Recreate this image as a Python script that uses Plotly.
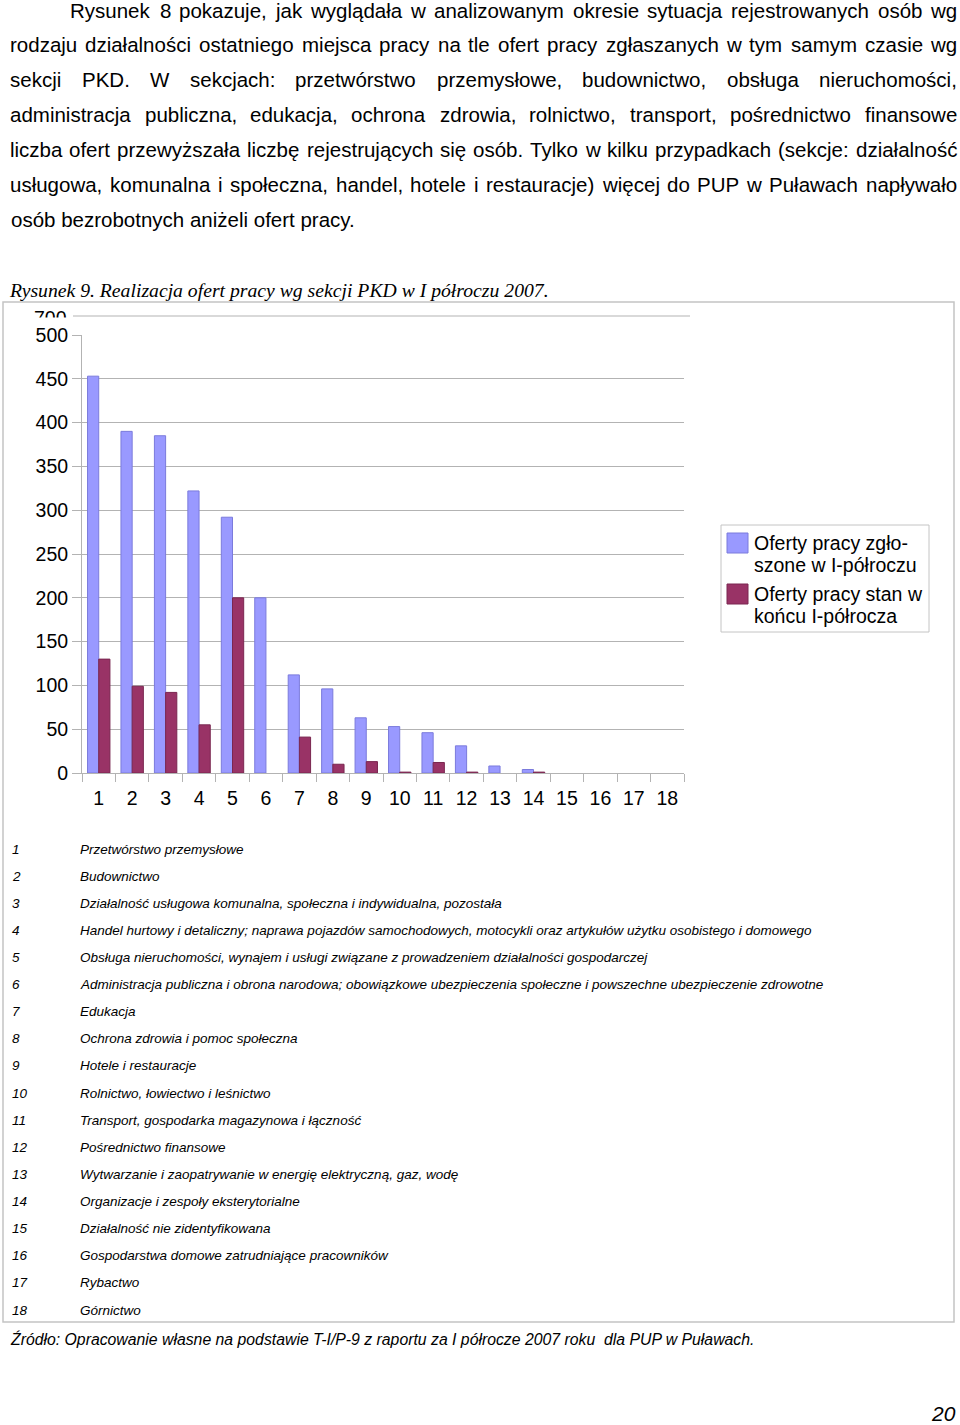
import plotly.graph_objects as go

# ---------------- data ----------------
sections = [str(i) for i in range(1, 19)]
offers_received = [453, 390, 385, 322, 292, 200, 112, 96, 63, 53, 46, 31, 8, 4, 0, 0, 0, 0]
offers_end = [130, 99, 92, 55, 200, 0, 41, 10, 13, 1, 12, 1, 0, 1, 0, 0, 0, 0]
y_ticks = [0, 50, 100, 150, 200, 250, 300, 350, 400, 450, 500]

series_names = ["Oferty pracy zgło-<br>szone w I-półroczu", "Oferty pracy stan w<br>końcu I-półrocza"]
legend_lines = [["Oferty pracy zgło-", "szone w I-półroczu"], ["Oferty pracy stan w", "końcu I-półrocza"]]

section_names = [
    "Przetwórstwo przemysłowe",
    "Budownictwo",
    "Działalność usługowa komunalna, społeczna i indywidualna, pozostała",
    "Handel hurtowy i detaliczny; naprawa pojazdów samochodowych, motocykli oraz artykułów użytku osobistego i domowego",
    "Obsługa nieruchomości, wynajem i usługi związane z prowadzeniem działalności gospodarczej",
    "Administracja publiczna i obrona narodowa; obowiązkowe ubezpieczenia społeczne i powszechne ubezpieczenie zdrowotne",
    "Edukacja",
    "Ochrona zdrowia i pomoc społeczna",
    "Hotele i restauracje",
    "Rolnictwo, łowiectwo i leśnictwo",
    "Transport, gospodarka magazynowa i łączność",
    "Pośrednictwo finansowe",
    "Wytwarzanie i zaopatrywanie w energię elektryczną, gaz, wodę",
    "Organizacje i zespoły eksterytorialne",
    "Działalność nie zidentyfikowana",
    "Gospodarstwa domowe zatrudniające pracowników",
    "Rybactwo",
    "Górnictwo",
]

paragraph = [
    "Rysunek 8 pokazuje, jak wyglądała w analizowanym okresie sytuacja rejestrowanych osób wg",
    "rodzaju działalności ostatniego miejsca pracy na tle ofert pracy zgłaszanych w tym samym czasie wg",
    "sekcji PKD. W sekcjach: przetwórstwo przemysłowe, budownictwo, obsługa nieruchomości,",
    "administracja publiczna, edukacja, ochrona zdrowia, rolnictwo, transport, pośrednictwo finansowe",
    "liczba ofert przewyższała liczbę rejestrujących się osób. Tylko w kilku przypadkach (sekcje: działalność",
    "usługowa, komunalna i społeczna, handel, hotele i restauracje) więcej do PUP w Puławach napływało",
    "osób bezrobotnych aniżeli ofert pracy.",
]
caption = "Rysunek 9. Realizacja ofert pracy wg sekcji PKD w I półroczu 2007."
source = "Źródło: Opracowanie własne na podstawie T-I/P-9 z raportu za I półrocze 2007 roku  dla PUP w Puławach."
page_no = "20"

# ---------------- styling ----------------
W, H = 960, 1425
BLUE, BLUE_EDGE = "#9999ff", "#7b7bdc"
RED, RED_EDGE = "#993366", "#7a2750"
GRID = "#b3b3b3"
SANS = "Liberation Sans, Arial, sans-serif"
SERIF = "Liberation Serif, Times New Roman, serif"


def fx(p):
    return p / W


def fy(p):
    return 1 - p / H


# Helvetica/Arial advance widths (per 1000 em) for justification
AW = {' ': 278, 'a': 556, 'b': 556, 'c': 500, 'd': 556, 'e': 556, 'f': 278, 'g': 556, 'h': 556,
      'i': 222, 'j': 222, 'k': 500, 'l': 222, 'm': 833, 'n': 556, 'o': 556, 'p': 556, 'q': 556,
      'r': 333, 's': 500, 't': 278, 'u': 556, 'v': 500, 'w': 722, 'x': 500, 'y': 500, 'z': 500,
      ',': 278, '.': 278, ':': 278, ';': 278, '(': 333, ')': 333, '-': 333,
      'P': 667, 'K': 667, 'D': 722, 'W': 944, 'R': 722, 'T': 611, 'U': 722, 'I': 278}
BASE = {'ą': 'a', 'ę': 'e', 'ó': 'o', 'ś': 's', 'ć': 'c', 'ń': 'n', 'ż': 'z', 'ź': 'z', 'ł': 'l'}


def tw(s, size):
    return sum(AW.get(BASE.get(c, c), 556) for c in s) / 1000 * size


fig = go.Figure()
fig.add_trace(go.Bar(x=sections, y=offers_received, name=series_names[0],
                     marker=dict(color=BLUE, line=dict(color=BLUE_EDGE,
                                                       width=[1 if v > 0 else 0 for v in offers_received]))))
fig.add_trace(go.Bar(x=sections, y=offers_end, name=series_names[1],
                     marker=dict(color=RED, line=dict(color=RED_EDGE,
                                                      width=[1 if v > 0 else 0 for v in offers_end]))))

annotations = []
shapes = []

# paragraph (justified, word by word)
PSIZE = 20.5
line_y = [11, 44.5, 79.5, 114.5, 149.5, 184.5, 219.5]
for i, line in enumerate(paragraph):
    x0 = 71 if i == 0 else 10
    x1 = 957
    words = line.split(" ")
    if i == len(paragraph) - 1:
        annotations.append(dict(x=fx(x0), y=fy(line_y[i]), xref="paper", yref="paper", text=line,
                                showarrow=False, xanchor="left", yanchor="middle", borderpad=0,
                                font=dict(family=SANS, size=PSIZE, color="black")))
        continue
    widths = [tw(w_, PSIZE) for w_ in words]
    gap = (x1 - x0 - sum(widths)) / (len(words) - 1)
    pos = x0
    for j, w_ in enumerate(words):
        annotations.append(dict(x=fx(pos + widths[j] / 2), y=fy(line_y[i]), xref="paper", yref="paper",
                                text=w_, showarrow=False, xanchor="center", yanchor="middle", borderpad=0,
                                font=dict(family=SANS, size=PSIZE, color="black")))
        pos += widths[j] + gap

# caption
annotations.append(dict(x=fx(7), y=fy(290), xref="paper", yref="paper", text="<i>" + caption + "</i>",
                        showarrow=False, xanchor="left", yanchor="middle",
                        font=dict(family=SERIF, size=19.7, color="black")))

# outer frame
shapes.append(dict(type="rect", xref="paper", yref="paper", x0=fx(3), x1=fx(954), y0=fy(302), y1=fy(1322),
                   line=dict(color="#c4c4c4", width=1.5)))
# stray top gridline with clipped "700"
shapes.append(dict(type="line", xref="paper", yref="paper", x0=fx(73), x1=fx(690), y0=fy(316), y1=fy(316),
                   line=dict(color=GRID, width=1)))
annotations.append(dict(x=fx(69), y=fy(318), xref="paper", yref="paper", text="700", showarrow=False,
                        xanchor="right", yanchor="middle", font=dict(family=SANS, size=19.5, color="black")))
annotations.append(dict(x=fx(28), y=fy(317), xref="paper", yref="paper", text=" ", showarrow=False,
                        xanchor="left", yanchor="top", width=44, height=9, borderpad=0, bgcolor="white",
                        font=dict(size=2)))

# legend (drawn manually)
shapes.append(dict(type="rect", xref="paper", yref="paper", x0=fx(721), x1=fx(929), y0=fy(525), y1=fy(632),
                   line=dict(color="#c4c4c4", width=1)))
for k, (fc, ec, ytop) in enumerate([(BLUE, BLUE_EDGE, 533), (RED, RED_EDGE, 584)]):
    shapes.append(dict(type="rect", xref="paper", yref="paper", x0=fx(727), x1=fx(748), y0=fy(ytop),
                       y1=fy(ytop + 20), fillcolor=fc, line=dict(color=ec, width=1)))
    for m, txt in enumerate(legend_lines[k]):
        annotations.append(dict(x=fx(752), y=fy(ytop + 10 + 22 * m), xref="paper", yref="paper", text=txt,
                                showarrow=False, xanchor="left", yanchor="middle",
                                font=dict(family=SANS, size=19.5, color="black")))

# section table
for i, name in enumerate(section_names):
    yy = 849 + 27.12 * i
    annotations.append(dict(x=fx(10), y=fy(yy), xref="paper", yref="paper", text="<i>" + sections[i] + "</i>",
                            showarrow=False, xanchor="left", yanchor="middle",
                            font=dict(family=SANS, size=13.5, color="black")))
    annotations.append(dict(x=fx(78), y=fy(yy), xref="paper", yref="paper", text="<i>" + name + "</i>",
                            showarrow=False, xanchor="left", yanchor="middle",
                            font=dict(family=SANS, size=13.5, color="black")))

# source & page number
annotations.append(dict(x=fx(8), y=fy(1339), xref="paper", yref="paper", text="<i>" + source + "</i>",
                        showarrow=False, xanchor="left", yanchor="middle",
                        font=dict(family=SANS, size=15.8, color="black")))
annotations.append(dict(x=fx(958), y=fy(1413), xref="paper", yref="paper", text="<i>" + page_no + "</i>",
                        showarrow=False, xanchor="right", yanchor="middle",
                        font=dict(family=SANS, size=21, color="black")))

fig.update_layout(
    template="none",
    width=W, height=H, autosize=False,
    margin=dict(l=0, r=0, t=0, b=0, pad=0, autoexpand=False),
    paper_bgcolor="white", plot_bgcolor="white",
    showlegend=False,
    barmode="group", bargap=0.33, bargroupgap=0,
    annotations=annotations, shapes=shapes,
    xaxis=dict(domain=[fx(82), fx(684)], type="category", showgrid=False, automargin=False,
               showline=True, linecolor=GRID, linewidth=1, zeroline=False,
               ticks="outside", tickson="boundaries", ticklen=8, tickcolor=GRID,
               tickfont=dict(family=SANS, size=19.5, color="black"), ticklabelstandoff=8),
    yaxis=dict(domain=[fy(773), fy(335)], range=[0, 500], tickvals=y_ticks, automargin=False,
               showgrid=True, gridcolor=GRID, gridwidth=1, zeroline=False,
               showline=True, linecolor=GRID, linewidth=1,
               ticks="outside", ticklen=9, tickcolor=GRID,
               tickfont=dict(family=SANS, size=19.5, color="black"), ticklabelstandoff=0),
)

fig.write_html("out.html", config={"displayModeBar": False},
               post_script="document.body.style.margin='0';document.body.style.overflow='hidden';")
